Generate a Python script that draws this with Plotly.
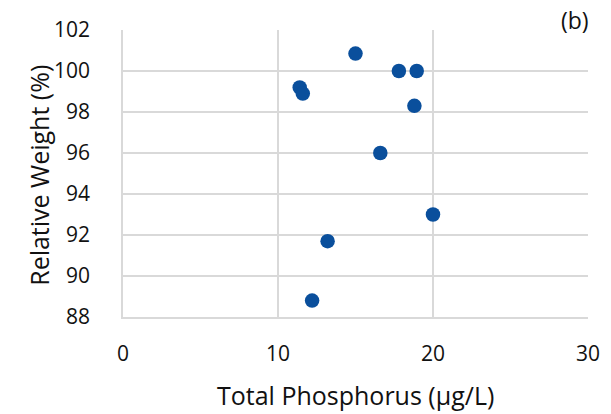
import plotly.graph_objects as go

total_phosphorus = [15.0, 17.8, 18.95, 11.4, 11.6, 18.8, 16.6, 20.0, 13.2, 12.2]
relative_weight = [100.85, 100.0, 100.0, 99.2, 98.9, 98.3, 96.0, 93.0, 91.7, 88.8]
x_ticks = [0, 10, 20, 30]
y_ticks = [88, 90, 92, 94, 96, 98, 100, 102]

W, H = 611, 414
L, R, T, B = 122.7, 23, 29.5, 97.3
pw, ph = W - L - R, H - T - B

font = "Open Sans, Noto Sans, sans-serif"
grid = "#d9d9d9"
txt = "#111111"

fig = go.Figure(go.Scatter(
    x=total_phosphorus, y=relative_weight, mode="markers",
    marker=dict(size=14.5, color="#0A4F9C", line=dict(width=0)),
    showlegend=False,
))

fig.update_layout(
    width=W, height=H,
    margin=dict(l=L, r=R, t=T, b=B, pad=0, autoexpand=False),
    paper_bgcolor="white", plot_bgcolor="white",
    font=dict(family=font, size=21, color=txt),
)
fig.update_xaxes(
    range=[0, 30], tickvals=x_ticks, showgrid=True, gridcolor=grid, gridwidth=1.5,
    showline=True, linecolor=grid, linewidth=1.5, zeroline=False,
    ticks="outside", ticklen=17, tickcolor="rgba(0,0,0,0)",
    tickfont=dict(size=21, color=txt), automargin=False,
)
fig.update_yaxes(
    range=[88, 102], tickvals=y_ticks, showgrid=True, gridcolor=grid, gridwidth=1.5,
    showline=True, linecolor=grid, linewidth=1.5, zeroline=False,
    ticks="outside", ticklen=27, tickcolor="rgba(0,0,0,0)",
    tickfont=dict(size=21, color=txt), automargin=False,
)
fig.add_annotation(text="Total Phosphorus (µg/L)", xref="paper", yref="paper",
                   x=0.5, y=0, yshift=-(395 - (H - B)), showarrow=False,
                   xanchor="center", yanchor="middle",
                   font=dict(size=25, color=txt))
fig.add_annotation(text="Relative Weight (%)", xref="paper", yref="paper",
                   x=0, y=0.5, xshift=-(L - 38), yshift=-2, showarrow=False,
                   textangle=-90, xanchor="center", yanchor="middle",
                   font=dict(size=25, color=txt))
x0 = (541 - L) / pw
y0 = (H - B - 52) / ph
fig.add_shape(type="rect", xref="paper", yref="paper", x0=x0, x1=1.1, y0=y0, y1=1.2,
              fillcolor="white", line=dict(width=0), layer="above")
fig.add_annotation(text="(b)", xref="paper", yref="paper",
                   x=(575 - L) / pw, y=(H - B - 19) / ph, showarrow=False,
                   font=dict(size=23, color=txt), xanchor="center", yanchor="middle")

fig.write_html("out.html")
